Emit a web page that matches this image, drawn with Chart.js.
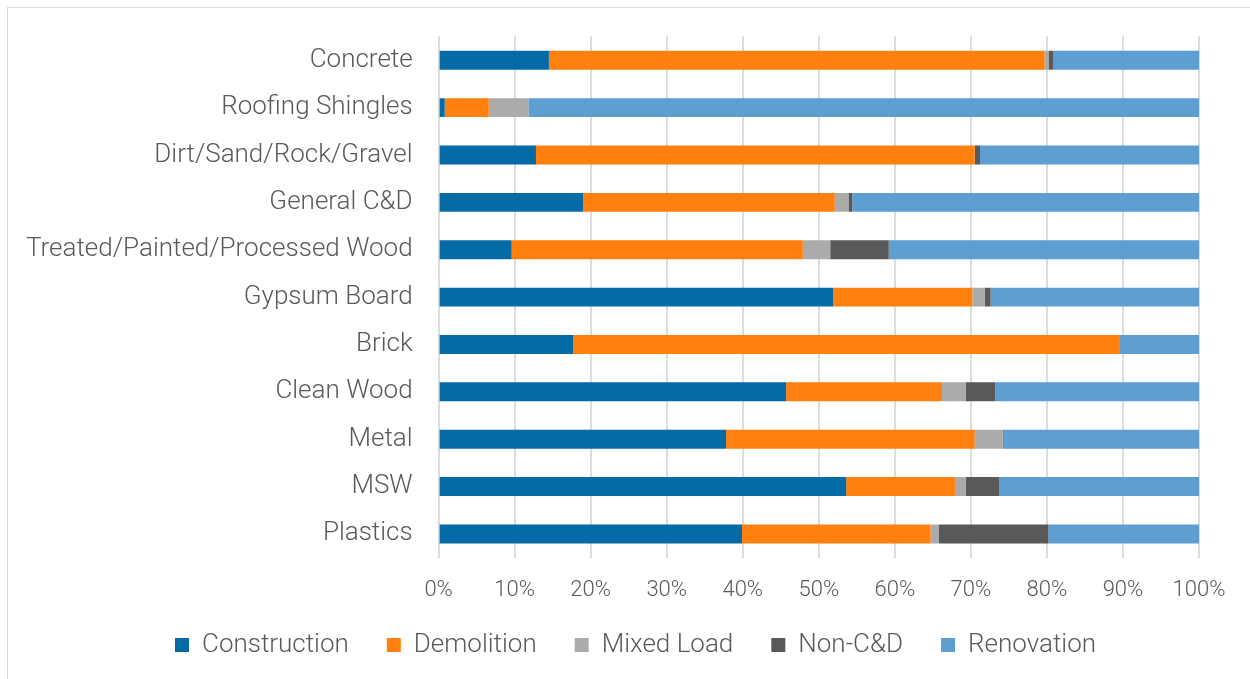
<!DOCTYPE html>
<html>
<head>
<meta charset="utf-8">
<script src="https://cdn.jsdelivr.net/npm/chart.js@4/dist/chart.umd.min.js"></script>
<style>
  body { margin: 0; background: #fff; overflow: hidden; }
  #frame { position: absolute; left: 7px; top: 7px; width: 1300px; height: 700px; border: 1px solid #d9d9d9; }
  #myChart { position: absolute; left: 0; top: -5px; }
</style>
</head>
<body>
<div id="frame"></div>
<canvas id="myChart" width="1250" height="703"></canvas>
<script>
var categories = ["Concrete", "Roofing Shingles", "Dirt/Sand/Rock/Gravel", "General C&D",
  "Treated/Painted/Processed Wood", "Gypsum Board", "Brick", "Clean Wood", "Metal", "MSW", "Plastics"];

// share of each load type, percent
var construction = [14.5, 0.8, 12.8, 19.0, 9.6, 51.9, 17.7, 45.7, 37.8, 53.6, 39.9];
var demolition = [65.2, 5.8, 57.7, 33.1, 38.3, 18.3, 71.9, 20.5, 32.7, 14.3, 24.8];
var mixedLoad = [0.5, 5.2, 0, 1.8, 3.6, 1.6, 0, 3.1, 3.7, 1.4, 1.1];
var nonCD = [0.6, 0, 0.7, 0.5, 7.7, 0.8, 0, 3.9, 0.1, 4.4, 14.4];
var renovation = [19.2, 88.2, 28.8, 45.6, 40.8, 27.4, 10.4, 26.8, 25.7, 26.3, 19.8];

var ticks = [0, 10, 20, 30, 40, 50, 60, 70, 80, 90, 100];

var font = "Roboto";
var grey = "#595959";

// pull the legend up closer to the axis labels and centre it under the plot
var legendUp = {
  id: "legendUp",
  afterLayout: function (chart) {
    chart.legend.top -= 30;
    chart.legend.bottom -= 30;
    chart.legend.left += 36;
    chart.legend.right += 36;
  },
};

var ctx = document.getElementById("myChart").getContext("2d");

var myChart = new Chart(ctx, {
  type: "bar",
  data: {
    labels: categories,
    datasets: [
      { label: "Construction", data: construction, backgroundColor: "#046BA6" },
      { label: "Demolition", data: demolition, backgroundColor: "#FF7F0F" },
      { label: "Mixed Load", data: mixedLoad, backgroundColor: "#ABABAB" },
      { label: "Non-C&D", data: nonCD, backgroundColor: "#595959" },
      { label: "Renovation", data: renovation, backgroundColor: "#5F9ED1" },
    ],
  },
  options: {
    indexAxis: "y",
    responsive: false,
    animation: false,
    categoryPercentage: 0.4,
    barPercentage: 1,
    layout: {
      padding: { left: 0, right: 51, top: 24, bottom: 0 },
    },
    scales: {
      x: {
        stacked: true,
        min: 0,
        max: 100,
        afterBuildTicks: function (axis) {
          axis.ticks = ticks.map(function (v) { return { value: v }; });
        },
        grid: {
          color: "#dcdcdc",
          lineWidth: 2,
          drawTicks: false,
        },
        border: { display: false },
        ticks: {
          padding: 20,
          maxRotation: 0,
          color: grey,
          font: { family: font, size: 22, weight: 300 },
          callback: function (v) { return v + "%"; },
        },
      },
      y: {
        stacked: true,
        grid: { display: false, drawTicks: false },
        border: { display: false },
        ticks: {
          padding: 26,
          color: grey,
          font: { family: font, size: 26, weight: 300 },
        },
      },
    },
    plugins: {
      legend: {
        position: "bottom",
        labels: {
          boxWidth: 14,
          boxHeight: 14,
          padding: 38,
          color: grey,
          font: { family: font, size: 26, weight: 300 },
        },
      },
      tooltip: { enabled: false },
    },
  },
  plugins: [legendUp],
});
</script>
</body>
</html>
